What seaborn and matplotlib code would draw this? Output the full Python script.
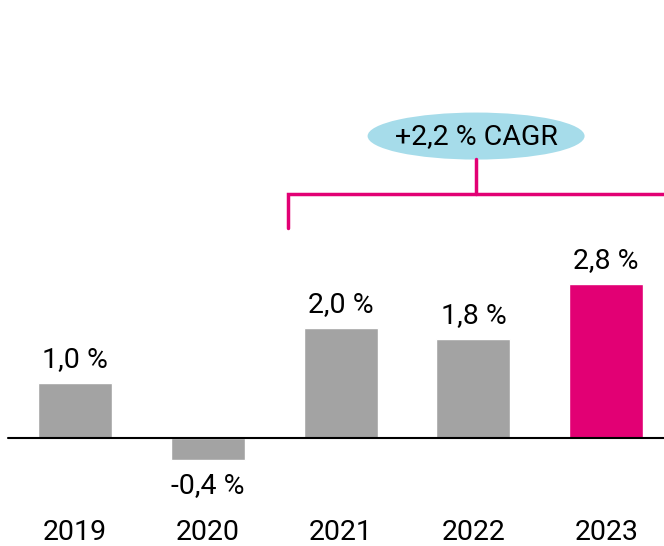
# Importing required libraries ====

import matplotlib.pyplot as plt
import pandas as pd
import seaborn as sns
from matplotlib.patches import Ellipse


# Data ====

years = ["2019", "2020", "2021", "2022", "2023"]
growth = [1.0, -0.4, 2.0, 1.8, 2.8]
bar_colors = ["#a3a3a3", "#a3a3a3", "#a3a3a3", "#a3a3a3", "#e20074"]
cagr_label = "+2,2 % CAGR"

df = pd.DataFrame({"year": years, "growth": growth})


# Bar Chart ====

sns.set_style("white")
plt.rcParams["font.family"] = ["Roboto", "DejaVu Sans"]
plt.rcParams["text.color"] = "black"

fig = plt.figure(figsize = (6.64, 5.46), dpi = 100)
ax = fig.add_axes([0, 0, 1, 1])

sns.barplot(data = df, x = "year", y = "growth", hue = "year",
            palette = bar_colors, saturation = 1, width = 0.557,
            legend = False, ax = ax)

ax.set_xlim(-0.565, 4.435)
ax.set_ylim(-1.964, 7.964)
ax.axis("off")

# baseline
ax.plot([-0.505, 4.435], [0, 0], color = "black", lw = 1.5)

for i, v in enumerate(growth):
    label = f"{v:.1f} %".replace(".", ",")
    off = 7 if v >= 0 else -9
    ax.annotate(label, (i, v), xytext = (0, off), textcoords = "offset points",
                ha = "center", va = "bottom" if v >= 0 else "top", fontsize = 20.5)
    ax.text(i, -1.86, years[i], ha = "center", va = "baseline", fontsize = 20.5)

# CAGR bracket
magenta = "#e20074"
ax.plot([1.604, 1.604, 4.5], [3.82, 4.436, 4.436], color = magenta, lw = 2.5,
        solid_joinstyle = "miter")
ax.plot([3.02, 3.02], [4.436, 5.07], color = magenta, lw = 2.5)
ax.add_patch(Ellipse((3.02, 5.49), 1.634, 0.855, color = "#a6dcea", lw = 0))
ax.text(3.02, 5.49, cagr_label, ha = "center", va = "center", fontsize = 20.5)

plt.savefig("out.png", dpi = 100)
